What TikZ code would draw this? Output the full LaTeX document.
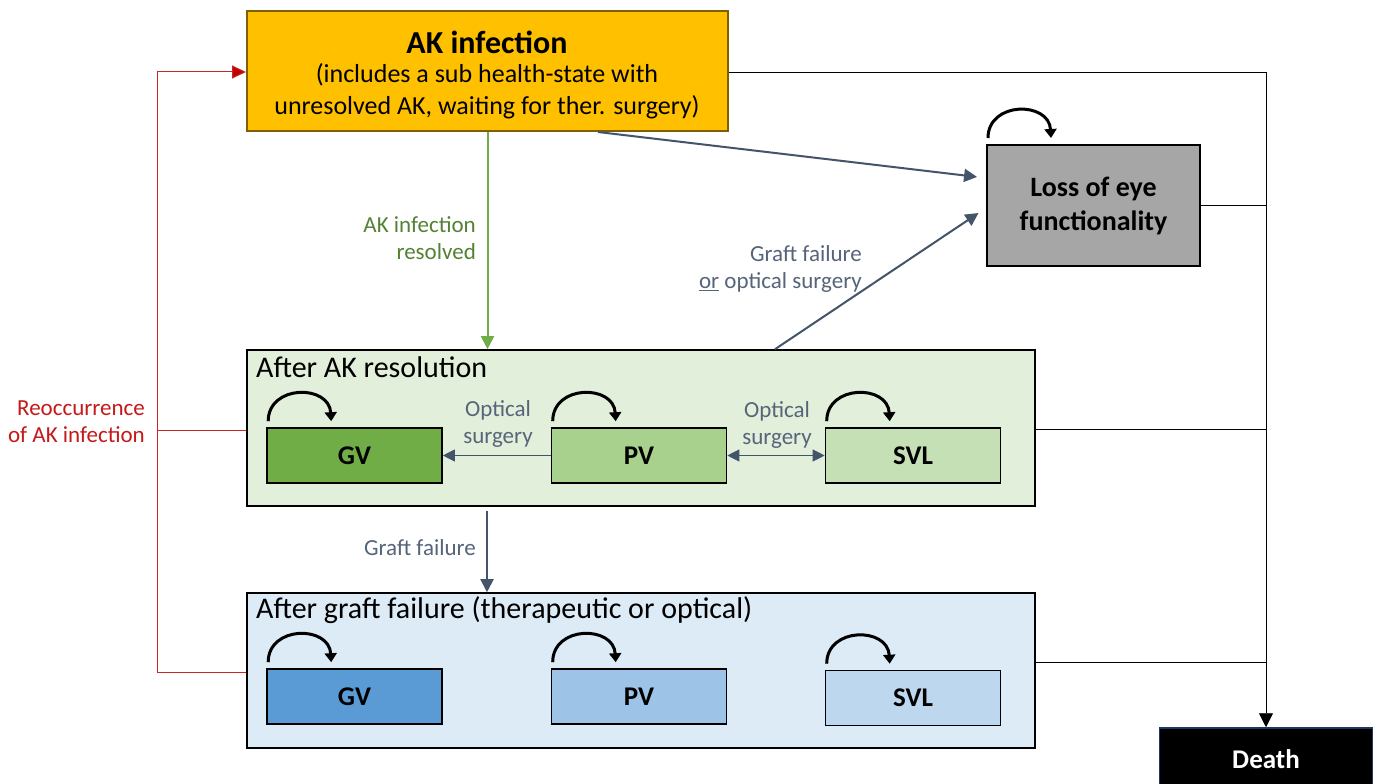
\documentclass[tikz,border=0pt]{standalone}
\usepackage{fontspec}
\setmainfont{Carlito}
\usetikzlibrary{arrows.meta,calc}
\definecolor{akfill}{HTML}{FFC000}
\definecolor{akline}{HTML}{7F6000}
\definecolor{lossfill}{HTML}{A6A6A6}
\definecolor{regG}{HTML}{E2EFDA}
\definecolor{regB}{HTML}{DDEBF7}
\definecolor{gA}{HTML}{70AD47}
\definecolor{gB}{HTML}{A9D18E}
\definecolor{gC}{HTML}{C5E0B4}
\definecolor{bA}{HTML}{5B9BD5}
\definecolor{bB}{HTML}{9DC3E6}
\definecolor{bC}{HTML}{BDD7EE}
\definecolor{slate}{HTML}{44546A}
\definecolor{slatetext}{HTML}{56657A}
\definecolor{resolved}{HTML}{548235}
\definecolor{reocc}{HTML}{C00000}
\definecolor{deathline}{HTML}{1F3864}
\tikzset{
  region/.style={draw=black, line width=1.6pt, minimum width=788, minimum height=156, inner sep=0pt},
  statebox/.style={draw=black, line width=1.6pt, minimum width=175, minimum height=55, inner sep=0pt,
    font=\fontsize{27}{30}\selectfont\bfseries},
  regtitle/.style={anchor=west, inner sep=0pt, font=\fontsize{30}{34}\selectfont},
  lbl/.style={inner sep=0pt, font=\fontsize{23}{27}\selectfont},
  flow/.style={draw=slate, line width=2pt, -{Triangle[length=13pt,width=13pt]}},
  thinflow/.style={draw=slate, line width=1.1pt},
  selfloop/.style={line width=3pt, -{Triangle[length=9pt,width=12pt]}},
  deathrail/.style={draw=black, line width=0.9pt},
}
\begin{document}
\begin{tikzpicture}[x=1pt,y=-1pt]
\useasboundingbox (0,0) rectangle (1379,784);
\clip (0,0) rectangle (1379,784);
\fill[white] (0,0) rectangle (1379,784);

% main health states
\node[draw=akline, fill=akfill, line width=2pt, minimum width=481, minimum height=120, inner sep=0pt] (ak) at (487.5,71) {};
\node[inner sep=0pt, font=\fontsize{32}{36}\selectfont\bfseries] (akt) at (487,42) {AK infection};
\node[inner sep=0pt, align=center, font=\fontsize{26}{32}\selectfont] (aks) at (487,91)
  {(includes a sub health-state with\\unresolved AK, waiting for ther. surgery)};
\node[draw=black, fill=lossfill, line width=2pt, minimum width=213, minimum height=121, inner sep=0pt,
      align=center, font=\fontsize{28}{34}\selectfont\bfseries] (loss) at (1093.5,205.5)
  {Loss of eye\\functionality};
\node[draw=deathline, fill=black, line width=1.5pt, minimum width=213, minimum height=62, inner sep=0pt,
      text=white, font=\fontsize{27}{30}\selectfont\bfseries] (death) at (1266,759) {Death};

% region after AK resolution
\node[region, fill=regG] (grn) at (641,428) {};
\node[regtitle] (grnt) at (256,367) {After AK resolution};
\node[statebox, fill=gA] (gv1) at (354.5,455.5) {GV};
\node[statebox, fill=gB] (pv1) at (639,455.5) {PV};
\node[statebox, fill=gC] (svl1) at (913,455.5) {SVL};

% region after graft failure
\node[region, fill=regB, minimum height=155] (blu) at (641,670.5) {};
\node[regtitle] (blut) at (256,610) {After graft failure (therapeutic or optical)};
\node[statebox, fill=bA] (gv2) at (354.5,696.5) {GV};
\node[statebox, fill=bB] (pv2) at (639,696.5) {PV};
\node[statebox, fill=bC] (svl2) at (913,698) {SVL};

% self loops
\foreach \s in {gv1,pv1,svl1,gv2,pv2,svl2,loss}{
  \draw[selfloop] ($(\s.north west)+(2,-6)$) .. controls +(0,-37) and +(-2,-37) .. +(63,0);
}

% transitions from AK infection
\draw[draw=gA, line width=2pt, -{Triangle[length=13pt,width=13pt]}] (ak.south) -- (ak.south |- grn.north);
\node[lbl, text=resolved, anchor=east, align=right] (resl) at (476,238) {AK infection\\resolved};
\draw[flow, shorten >=9pt] ([xshift=110.5pt]ak.south) -- ([yshift=27.5pt]loss.west);

% from the resolution region to loss of function
\draw[flow, shorten >=9pt] ([xshift=134pt]grn.north) -- ([yshift=-2.5pt]loss.west);
\node[lbl, text=slatetext, anchor=east, align=right] (gfl) at (862,269) {Graft failure\\\underline{or} optical surgery};

% optical surgery within the resolution region
\draw[thinflow, -{Triangle[length=12pt,width=12pt]}] (pv1.west) -- (gv1.east);
\draw[thinflow, {Triangle[length=12pt,width=12pt]}-{Triangle[length=12pt,width=12pt]}] (pv1.east) -- (svl1.west);
\node[lbl, text=slatetext, align=center] (os1) at (498,424) {Optical\\surgery};
\node[lbl, text=slatetext, align=center] (os2) at (777,425) {Optical\\surgery};

% graft failure
\draw[flow, shorten <=4pt] ([xshift=-154pt]grn.south) -- ([xshift=-154pt]blu.north);
\node[lbl, text=slatetext] (gf) at (420,548) {Graft failure};

% death from every state
\draw[deathrail, -{Triangle[length=14pt,width=14pt]}] ([yshift=-1pt]ak.east) -- ([yshift=-1pt]ak.east -| death.north) -- (death.north);
\draw[deathrail] (loss.east) -- (loss.east -| death.north);
\draw[deathrail] ([yshift=-1pt]grn.east) -- ([yshift=-1pt]grn.east -| death.north);
\draw[deathrail] ([yshift=8.5pt]blu.east) -- ([yshift=8.5pt]blu.east -| death.north);

% reoccurrence of AK infection
\coordinate (rail) at (157,72);
\draw[draw=reocc!85, line width=1pt] ([yshift=-1.5pt]blu.west) -| (rail);
\draw[draw=reocc!85, line width=1pt, -{Triangle[length=14pt,width=13pt,fill=reocc]}] (rail) -- ([yshift=-1pt]ak.west);
\draw[draw=reocc!85, line width=1pt] ([yshift=-2pt]grn.west) -- ([yshift=-2pt]grn.west -| rail);
\node[lbl, text=reocc!90, anchor=east, align=right] (reo) at (145,422) {Reoccurrence\\of AK infection};
\end{tikzpicture}
\end{document}
